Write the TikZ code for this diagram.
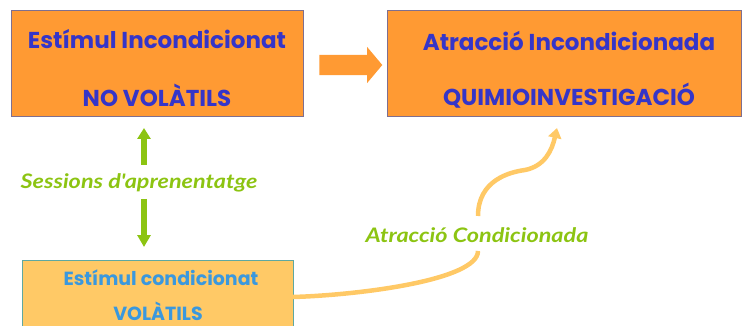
\documentclass[tikz,border=0pt]{standalone}
\usepackage{fontspec}
\setmainfont{Poppins}
\newfontfamily\handfont[FakeStretch=1.17]{Lato}
\usetikzlibrary{shapes.arrows,arrows.meta}
\definecolor{boxorange}{HTML}{FF9A33}
\definecolor{boxlight}{HTML}{FFC966}
\definecolor{txtblue}{HTML}{3535C8}
\definecolor{txtlblue}{HTML}{3A98DE}
\definecolor{lgreen}{HTML}{8CC412}
\definecolor{curveor}{HTML}{FFC966}
\definecolor{bordgray}{HTML}{7F6F8F}
\definecolor{bordteal}{HTML}{5FA8A0}
\tikzset{
  bigbox/.style={draw=bordgray, line width=1pt, fill=boxorange, inner sep=0pt},
  smallbox/.style={draw=bordteal, line width=1pt, fill=boxlight, inner sep=0pt},
  bigtxt/.style={text=txtblue, font=\fontsize{23}{25}\selectfont\bfseries},
  smalltxt/.style={text=txtlblue, font=\fontsize{19}{21}\selectfont\bfseries},
  gtxt/.style={text=lgreen, font=\handfont\fontsize{20}{22}\selectfont\bfseries\itshape},
}
\begin{document}
\begin{tikzpicture}[x=1pt,y=-1pt]
\useasboundingbox (0,0) rectangle (742,326);
\clip (0,0) rectangle (742,326);
% boxes
\node[bigbox, minimum width=292pt, minimum height=106pt, anchor=north west] (ui) at (11,10) {};
\node[bigbox, minimum width=354pt, minimum height=106pt, anchor=north west] (ua) at (387,10) {};
\node[smallbox, minimum width=271pt, minimum height=90pt, anchor=north west] (cs) at (22,260) {};
% texts
\node[bigtxt] (t1) at (157,39) {Estímul Incondicionat};
\node[bigtxt] (t2) at (157,95) {NO VOLÀTILS};
\node[bigtxt] (t3) at (569,41) {Atracció Incondicionada};
\node[bigtxt] (t4) at (569,96) {QUIMIOINVESTIGACIÓ};
\node[smalltxt] (t5) at (161,278) {Estímul condicionat};
\node[smalltxt, inner sep=1pt] (t6) at (158,311) {VOLÀTILS};
% fat arrow
\node[single arrow, fill=boxorange, draw=none, inner xsep=0pt, inner ysep=10pt, single arrow head extend=8pt, single arrow tip angle=100, minimum height=63pt] (fa) at (346.5,65) {};
% green label and arrows
\node[gtxt] (sa) at (139,183) {Sessions d'aprenentatge};
\coordinate (upa) at (144,165);
\coordinate (upb) at (144,128);
\coordinate (dna) at (144,199);
\coordinate (dnb) at (144,247);
\draw[lgreen, line width=6pt, -{Triangle[width=13pt,length=11pt]}] (upa) -- (upb);
\draw[lgreen, line width=6pt, -{Triangle[width=13pt,length=12pt]}] (dna) -- (dnb);
% curved arrow
\node[gtxt] (ac) at (477,235) {Atracció Condicionada};
\coordinate (c0) at (293,297);
\coordinate (c1) at (478,251);
\coordinate (c2) at (478,216);
\coordinate (c3) at (557,128);
\draw[curveor, line width=4.5pt] (c0) .. controls (360,295) and (478,280) .. (c1);
\draw[curveor, line width=4.5pt, -{Triangle[width=13pt,length=10pt]}] (c2) .. controls (478,180) and (510,172) .. (525,170) .. controls (545,166) and (552,150) .. (c3);
\end{tikzpicture}
\end{document}
